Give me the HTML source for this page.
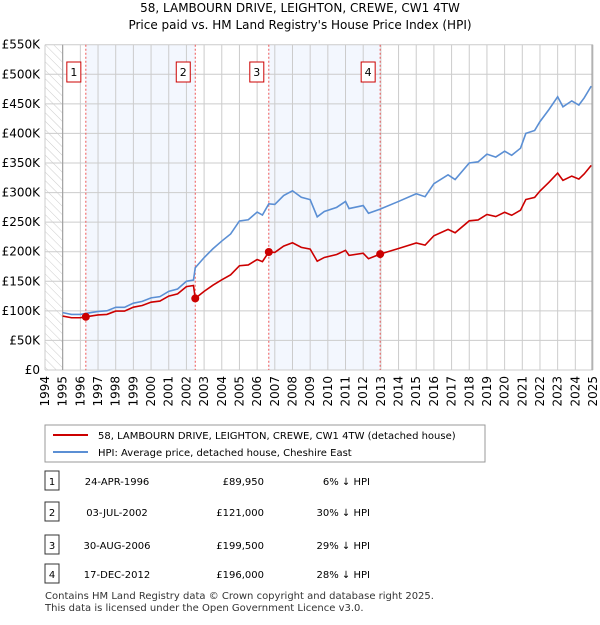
<!DOCTYPE html>
<html><head><meta charset="utf-8"><style>
body{margin:0;background:#fff;font-family:"Liberation Sans","DejaVu Sans",sans-serif;}
svg text{font-family:"DejaVu Sans","Liberation Sans",sans-serif;}
</style></head><body>
<svg id="c" width="600" height="620" xmlns="http://www.w3.org/2000/svg">
<defs><pattern id="hatch" width="6" height="6" patternUnits="userSpaceOnUse" patternTransform="rotate(-45)"><line x1="0" y1="0" x2="0" y2="6" stroke="#ccc" stroke-width="1"/></pattern></defs>
<text x="300" y="12" text-anchor="middle" font-size="12">58, LAMBOURN DRIVE, LEIGHTON, CREWE, CW1 4TW</text>
<text x="300" y="29" text-anchor="middle" font-size="12">Price paid vs. HM Land Registry's House Price Index (HPI)</text>
<g id="plot"></g>
<g>
<rect x="45" y="425" width="440" height="37" fill="#fff" stroke="#999"/>
<line x1="53" y1="435" x2="88" y2="435" stroke="#cc0000" stroke-width="2"/>
<text x="98" y="439" font-size="10">58, LAMBOURN DRIVE, LEIGHTON, CREWE, CW1 4TW (detached house)</text>
<line x1="53" y1="452" x2="88" y2="452" stroke="#5b8fd4" stroke-width="2"/>
<text x="98" y="456" font-size="10">HPI: Average price, detached house, Cheshire East</text>
</g>
<g id="tbl" font-size="10"></g>
<text x="45" y="599" font-size="10" fill="#333">Contains HM Land Registry data © Crown copyright and database right 2025.</text>
<text x="45" y="611" font-size="10" fill="#333">This data is licensed under the Open Government Licence v3.0.</text>
</svg>
<script>
const hpiYears=[1995,1995.5,1996,1996.31,1997,1997.5,1998,1998.5,1999,1999.5,2000,2000.5,2001,2001.5,2002,2002.4,2002.5,2003,2003.5,2004,2004.5,2005,2005.5,2006,2006.3,2006.66,2007,2007.5,2008,2008.5,2009,2009.4,2009.8,2010.5,2011,2011.2,2012,2012.3,2012.96,2014,2015,2015.5,2016,2016.8,2017.2,2018,2018.5,2019,2019.5,2020,2020.4,2020.9,2021.2,2021.7,2022,2022.5,2023,2023.3,2023.8,2024.2,2024.5,2024.9];
const hpiValues=[97,94,94,95.7,99,100,106,106,113,116,122,124,133,137,150,152,173,190,205,218,230,252,254,267,262,281,280,295,303,292,288,259,268,275,285,273,278,265,272,285,298,293,315,330,322,350,352,365,360,370,363,375,400,405,420,440,462,445,455,448,460,480];
const saleDates=[1996.31,2002.5,2006.66,2012.96];
const salePrices=[89.95,121,199.5,196];
const saleLabels=["24-APR-1996","03-JUL-2002","30-AUG-2006","17-DEC-2012"];
const salePriceText=["£89,950","£121,000","£199,500","£196,000"];
const saleHpiText=["6% ↓ HPI","30% ↓ HPI","29% ↓ HPI","28% ↓ HPI"];
const yTicks=[0,50,100,150,200,250,300,350,400,450,500,550];
const yTickLabels=["£0","£50K","£100K","£150K","£200K","£250K","£300K","£350K","£400K","£450K","£500K","£550K"];
const xMin=1994,xMax=2025;
const X=y=>45+(y-xMin)*(548/(xMax-xMin));
const Y=v=>370-v*(325.3/550);
const NS="http://www.w3.org/2000/svg";
const plot=document.getElementById('plot');
function mk(tag,attrs,parent){const e=document.createElementNS(NS,tag);for(const k in attrs)e.setAttribute(k,attrs[k]);(parent||plot).appendChild(e);return e;}
// background bands
let e=mk('rect',{x:X(1994),y:Y(550),width:X(1995)-X(1994),height:Y(0)-Y(550),fill:'url(#hatch)'});


[[0,1],[2,3]].forEach(p=>{const r=mk('rect',{x:X(saleDates[p[0]]),y:Y(550),width:X(saleDates[p[1]])-X(saleDates[p[0]]),height:Y(0)-Y(550),fill:'#eef3fd',opacity:0.7});

});
// grid
yTicks.forEach((t,i)=>{const l=mk('line',{x1:45,x2:593,y1:Y(t),y2:Y(t),stroke:'#ccc'});


const tx=mk('text',{x:40,y:Y(t)+4,'text-anchor':'end','font-size':12});tx.textContent=yTickLabels[i];

});
for(let yr=xMin;yr<=xMax;yr++){const l=mk('line',{x1:X(yr),x2:X(yr),y1:Y(550),y2:Y(0),stroke:'#ccc'});


const tx=mk('text',{x:0,y:0,'font-size':12,'text-anchor':'end',transform:`translate(${X(yr)+4},376) rotate(-90)`});tx.textContent=yr;

}
mk('line',{x1:X(1995),x2:X(1995),y1:Y(550),y2:Y(0),stroke:'#999'});
mk('line',{x1:X(2025)-1,x2:X(2025)-1,y1:Y(550),y2:Y(0),stroke:'#999'});
// sale markers
saleDates.forEach((d,i)=>{const l=mk('line',{x1:X(d),x2:X(d),y1:Y(550),y2:Y(0),stroke:'#e55','stroke-dasharray':'2,2'});


const b=mk('rect',{x:X(d)-19,y:62,width:14,height:20,fill:'#fff',stroke:'#cc0000'});


const t=mk('text',{x:X(d)-12,y:76,'text-anchor':'middle','font-size':11});t.textContent=i+1;

});
// hpi line
const hp=mk('polyline',{points:hpiYears.map((y,i)=>X(y)+','+Y(hpiValues[i])).join(' '),fill:'none',stroke:'#5b8fd4','stroke-width':1.6});


// property line: HPI scaled by ratio at most recent sale
function hpiAt(d){for(let i=0;i<hpiYears.length-1;i++){if(d>=hpiYears[i]&&d<=hpiYears[i+1]){const f=(d-hpiYears[i])/(hpiYears[i+1]-hpiYears[i]);return hpiValues[i]+f*(hpiValues[i+1]-hpiValues[i]);}}return hpiValues[hpiValues.length-1];}
const ratios=saleDates.map((d,i)=>salePrices[i]/hpiAt(d));
const redPts=hpiYears.map((y,i)=>{let k=0;for(let j=0;j<saleDates.length;j++)if(y>=saleDates[j])k=j;return X(y)+','+Y(hpiValues[i]*ratios[k]);});
const rp=mk('polyline',{points:redPts.join(' '),fill:'none',stroke:'#cc0000','stroke-width':1.6});


saleDates.forEach((d,i)=>{const c=mk('circle',{cx:X(d),cy:Y(salePrices[i]),r:4,fill:'#cc0000'});

});
// table
const tbl=document.getElementById('tbl');
const rowY=[481,512,545,574];
saleDates.forEach((d,i)=>{const y=rowY[i];
const b=mk('rect',{x:45,y:y-10,width:14,height:19,fill:'#fff',stroke:'#333'},tbl);


const vals=[[52,'middle',String(i+1)],[117,'middle',saleLabels[i]],[264,'end',salePriceText[i]],[370,'end',saleHpiText[i]]];
vals.forEach(v=>{const t=mk('text',{x:v[0],y:y+4,'text-anchor':v[1]},tbl);t.textContent=v[2];

});});
</script>
</body></html>
